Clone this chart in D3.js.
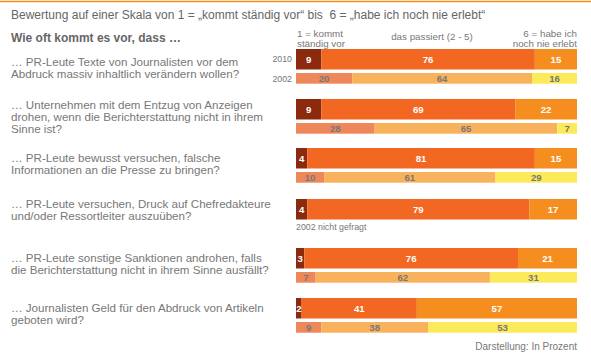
<!DOCTYPE html>
<html>
<head>
<meta charset="utf-8">
<title>Bewertung</title>
<script src="https://cdnjs.cloudflare.com/ajax/libs/d3/7.8.5/d3.min.js"></script>
<style>
  body { margin: 0; background: #fff; }
  text { font-family: "Liberation Sans", Arial, sans-serif; white-space: pre; }
</style>
</head>
<body>
<div id="chart"></div>
<script>
// questions (one per row)
var questions = [
  ["… PR-Leute Texte von Journalisten vor dem", "Abdruck massiv inhaltlich verändern wollen?"],
  ["… Unternehmen mit dem Entzug von Anzeigen", "drohen, wenn die Berichterstattung nicht in ihrem", "Sinne ist?"],
  ["… PR-Leute bewusst versuchen, falsche", "Informationen an die Presse zu bringen?"],
  ["… PR-Leute versuchen, Druck auf Chefredakteure", "und/oder Ressortleiter auszuüben?"],
  ["… PR-Leute sonstige Sanktionen androhen, falls", "die Berichterstattung nicht in ihrem Sinne ausfällt?"],
  ["… Journalisten Geld für den Abdruck von Artikeln", "geboten wird?"]
];
// [ständig, passiert 2-5, nie]
var values2010 = [[9, 76, 15], [9, 69, 22], [4, 81, 15], [4, 79, 17], [3, 76, 21], [2, 41, 57]];
var values2002 = [[20, 64, 16], [28, 65, 7], [10, 61, 29], null, [7, 62, 31], [9, 38, 53]];

var colors2010 = ["#8c2a0e", "#f26722", "#f68e1f"];
var colors2002 = ["#ee885b", "#f9b25c", "#fcea5a"];

// layout
var W = 591, H = 353;
var rowTop = [49, 99, 148, 199, 248, 298];
var textTop = [62, 105, 158, 204, 258, 308]; // centre of first question line
var lineH = 11.7;

var svg = d3.select("#chart").append("svg").attr("width", W).attr("height", H);

svg.append("line").attr("x1", 0).attr("x2", W).attr("y1", 1.5).attr("y2", 1.5)
  .attr("stroke", "#f68e1f").attr("stroke-width", 1.5);

svg.append("text").attr("x", 11).attr("y", 19.3).attr("fill", "#666").style("font-size", "12px")
  .text("Bewertung auf einer Skala von 1 = „kommt ständig vor“ bis  6 = „habe ich noch nie erlebt“");

svg.append("text").attr("x", 11).attr("y", 41.6).attr("fill", "#666").style("font-size", "12px")
  .style("font-weight", "bold").text("Wie oft kommt es vor, dass …");

var x = d3.scaleLinear().domain([0, 100]).range([296, 577]);

// column headers
var hdr = svg.append("g").attr("fill", "#777").style("font-size", "9.8px");
hdr.append("text").attr("x", 297).attr("y", 36.8).text("1 = kommt");
hdr.append("text").attr("x", 297).attr("y", 47).text("ständig vor");
hdr.append("text").attr("x", 432).attr("y", 40.3).attr("text-anchor", "middle").text("das passiert (2 - 5)");
hdr.append("text").attr("x", 577).attr("y", 36.8).attr("text-anchor", "end").text("6 = habe ich");
hdr.append("text").attr("x", 577).attr("y", 47).attr("text-anchor", "end").text("noch nie erlebt");

svg.append("text").attr("x", 292).attr("y", 62.2).attr("text-anchor", "end").attr("fill", "#777")
  .style("font-size", "8.8px").text("2010");
svg.append("text").attr("x", 292).attr("y", 82.2).attr("text-anchor", "end").attr("fill", "#777")
  .style("font-size", "8.8px").text("2002");

function drawBar(vals, y, h, colors, txtColor) {
  var start = 0;
  var segs = vals.map(function (v) { var s = { x0: start, x1: start + v, v: v }; start += v; return s; });
  var g = svg.append("g");
  g.selectAll("rect").data(segs).join("rect")
    .attr("x", function (d) { return x(d.x0); })
    .attr("width", function (d) { return x(d.x1) - x(d.x0); })
    .attr("y", y).attr("height", h)
    .attr("fill", function (d, i) { return colors[i]; });
  g.selectAll("text").data(segs).join("text")
    .attr("x", function (d) { return (x(d.x0) + x(d.x1)) / 2; })
    .attr("y", y + h / 2 + 3.4)
    .attr("text-anchor", "middle")
    .attr("fill", txtColor)
    .style("font-size", "9.6px").style("font-weight", "bold")
    .text(function (d) { return d.v; });
}

questions.forEach(function (q, i) {
  q.forEach(function (line, j) {
    svg.append("text").attr("x", 11).attr("y", textTop[i] + j * lineH + 4.1)
      .attr("fill", "#777").style("font-size", "11.6px").text(line);
  });
  drawBar(values2010[i], rowTop[i], 20.5, colors2010, "#fff");
  if (values2002[i]) {
    drawBar(values2002[i], rowTop[i] + 24, 10.7, colors2002, "#777");
  } else {
    svg.append("text").attr("x", 296).attr("y", rowTop[i] + 31).attr("fill", "#777")
      .style("font-size", "8.8px").text("2002 nicht gefragt");
  }
});

svg.append("text").attr("x", 577).attr("y", 350.3).attr("text-anchor", "end").attr("fill", "#777")
  .style("font-size", "10px").text("Darstellung: In Prozent");
</script>
</body>
</html>
